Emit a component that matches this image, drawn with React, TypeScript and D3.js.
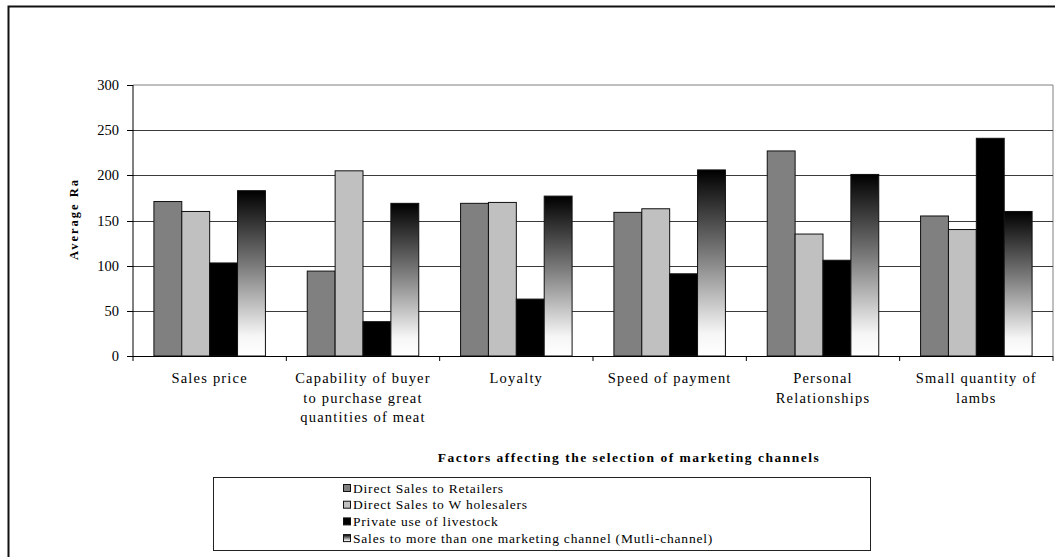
import React from 'react'
import * as d3 from 'd3'

const categories = [
  ['Sales price'],
  ['Capability of buyer', 'to purchase great', 'quantities of meat'],
  ['Loyalty'],
  ['Speed of payment'],
  ['Personal', 'Relationships'],
  ['Small quantity of', 'lambs'],
]

const seriesNames = [
  'Direct Sales to Retailers',
  'Direct Sales to W holesalers',
  'Private use of livestock',
  'Sales to more than one marketing channel (Mutli-channel)',
]

// one array per series, in category order
const retailers = [171, 94, 169, 159, 227, 155]
const wholesalers = [160, 205, 170, 163, 135, 140]
const privateUse = [103, 38, 63, 91, 106, 241]
const multiChannel = [183, 169, 177, 206, 201, 160]

const yTicks = [0, 50, 100, 150, 200, 250, 300]

const fills = ['#808080', '#c0c0c0', '#000000', 'url(#multi)']

const serif = '"Liberation Serif", "Times New Roman", serif'

export default function App() {
  const width = 1055
  const height = 557
  const plot = { left: 133, right: 1053, top: 85, bottom: 356 }

  const series = [retailers, wholesalers, privateUse, multiChannel]
  const catIdx = categories.map((_, i) => i)

  const x0 = d3.scaleBand<number>().domain(catIdx).range([plot.left, plot.right]).paddingInner(0).paddingOuter(0)
  // gap width 150% -> 1.5 bar widths of empty space per category
  const bw = x0.bandwidth() / 5.5
  const x1 = (s: number) => bw * 0.75 + s * bw
  const y = d3.scaleLinear().domain([0, 300]).range([plot.bottom, plot.top])

  const xTitleCenter = 629
  const legend = { left: 213, top: 477, right: 870, bottom: 550 }

  return (
    <svg
      width={width}
      height={height}
      style={{ position: 'absolute', left: 0, top: 0, background: '#fff' }}
      fontFamily={serif}
    >
      <defs>
        <linearGradient id="multi" x1="0" y1="0" x2="0" y2="1">
          <stop offset="0" stopColor="#000" />
          <stop offset="0.45" stopColor="#7a7a7a" />
          <stop offset="0.88" stopColor="#f6f6f6" />
          <stop offset="1" stopColor="#fff" />
        </linearGradient>
      </defs>

      {/* chart frame, runs off the picture */}
      <rect x={8.5} y={6.5} width={1300} height={700} fill="none" stroke="#111" strokeWidth={2} />

      {/* plot border top/right */}
      <line x1={plot.left} x2={plot.right} y1={plot.top} y2={plot.top} stroke="#808080" />
      <line x1={plot.right} x2={plot.right} y1={plot.top} y2={plot.bottom} stroke="#808080" />

      {/* gridlines */}
      {yTicks.filter(t => t > 0 && t < 300).map(t => (
        <line key={t} x1={plot.left} x2={plot.right} y1={Math.round(y(t)) + 0.5} y2={Math.round(y(t)) + 0.5} stroke="#3a3a3a" />
      ))}

      {/* bars */}
      {series.map((vals, s) => (
        <g key={s}>
          {vals.map((v, i) => (
            <rect
              key={i}
              x={x0(i)! + x1(s)}
              y={y(v)}
              width={bw}
              height={y(0) - y(v)}
              fill={fills[s]}
              stroke="#111"
              strokeWidth={1}
            />
          ))}
        </g>
      ))}

      {/* axes */}
      <line x1={plot.left} x2={plot.left} y1={plot.top} y2={plot.bottom} stroke="#000" />
      <line x1={plot.left} x2={plot.right} y1={plot.bottom + 0.5} y2={plot.bottom + 0.5} stroke="#000" />
      {yTicks.map(t => (
        <g key={t}>
          <line x1={plot.left - 6} x2={plot.left} y1={Math.round(y(t)) + 0.5} y2={Math.round(y(t)) + 0.5} stroke="#000" />
          <text x={119} y={y(t)} dy="0.35em" textAnchor="end" fontSize={14.5} fill="#000">{t}</text>
        </g>
      ))}
      {[...catIdx, categories.length].map(i => {
        const xx = i < categories.length ? x0(i)! : plot.right
        return <line key={i} x1={xx} x2={xx} y1={plot.bottom} y2={plot.bottom + 5} stroke="#000" />
      })}

      {/* category labels */}
      {categories.map((lines, i) => (
        <text
          key={i}
          x={x0(i)! + x0.bandwidth() / 2}
          y={383}
          textAnchor="middle"
          fontSize={14.5}
          letterSpacing={1.2}
          fill="#000"
        >
          {lines.map((l, k) => (
            <tspan key={k} x={x0(i)! + x0.bandwidth() / 2} dy={k === 0 ? 0 : 19.5}>{l}</tspan>
          ))}
        </text>
      ))}

      {/* axis titles */}
      <text
        transform={`translate(78,219) rotate(-90)`}
        textAnchor="middle"
        fontSize={12.5}
        fontWeight="bold"
        letterSpacing={2}
        fill="#000"
      >
        Average Ra
      </text>
      <text x={xTitleCenter} y={462} textAnchor="middle" fontSize={13.5} fontWeight="bold" letterSpacing={1.5} fill="#000">
        Factors affecting the selection of marketing channels
      </text>

      {/* legend */}
      <rect x={legend.left + 0.5} y={legend.top + 0.5} width={legend.right - legend.left} height={legend.bottom - legend.top} fill="#fff" stroke="#222" />
      {seriesNames.map((name, s) => {
        const cy = 488 + s * 16.7
        return (
          <g key={s}>
            <rect x={343.5} y={cy - 3.5} width={7} height={7} fill={fills[s]} stroke="#111" />
            <text x={353} y={cy} dy="0.35em" fontSize={13.5} letterSpacing={0.8} fill="#000">{name}</text>
          </g>
        )
      })}
    </svg>
  )
}
